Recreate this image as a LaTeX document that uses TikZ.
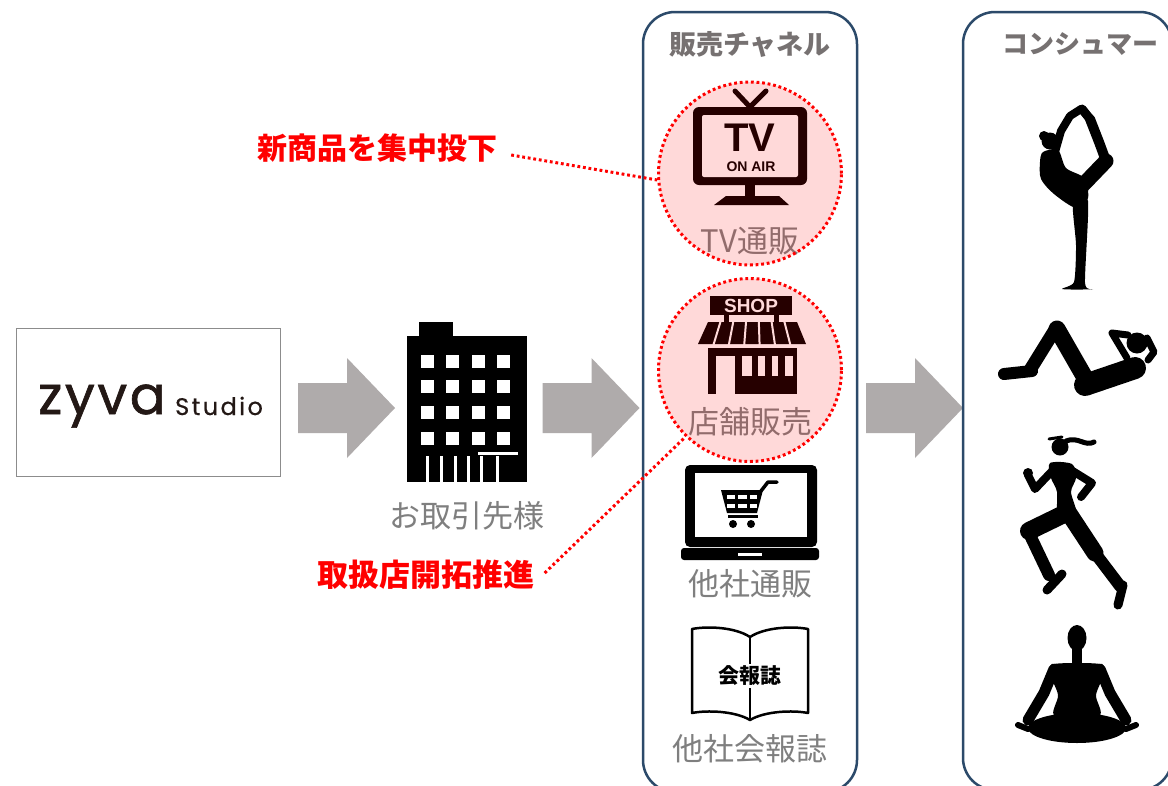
\documentclass[tikz,border=0pt]{standalone}
\usepackage{fontspec}
\setmainfont{Liberation Sans}
\newfontfamily\jp{Noto Sans CJK JP}
\newfontfamily\logofont{Poppins}
\usetikzlibrary{calc}

\definecolor{labelgray}{HTML}{7F7F7F}
\definecolor{headgray}{HTML}{767171}
\definecolor{panelblue}{HTML}{2C4A6A}
\definecolor{arrowgray}{HTML}{AFABAB}
\definecolor{logoink}{HTML}{231815}
\definecolor{framegray}{HTML}{8C8C8C}

\tikzset{
  lbl/.style={font=\jp\fontsize{31}{31}\selectfont, text=labelgray, inner sep=0pt},
  header/.style={font=\jp\bfseries\fontsize{27}{27}\selectfont, text=headgray, inner sep=0pt},
  note/.style={font=\jp\bfseries\fontsize{31}{31}\selectfont, text=red, inner sep=0pt},
  panel/.style={draw=panelblue, line width=2.5pt, rounded corners=32pt},
  hilite/.style={circle, minimum size=183pt, inner sep=0pt, fill=red, fill opacity=0.15,
    draw=red, draw opacity=1, line width=3pt, dash pattern=on 2.8pt off 2.8pt},
  dotlink/.style={draw=red, line width=3pt, dash pattern=on 2.8pt off 2.8pt},
  limb/.style={line cap=round, line join=round},
  blockarrow/.pic={
    \fill[arrowgray] (-48.5,-25) -- (0.5,-25) -- (0.5,-50) -- (48.5,0)
      -- (0.5,50) -- (0.5,25) -- (-48.5,25) -- cycle;
  }
}

\begin{document}
\begin{tikzpicture}[x=1pt,y=-1pt]
\useasboundingbox (0,0) rectangle (1168,785);
\fill[white] (0,0) rectangle (1168,785);

% ---- brand logo ----
\node[draw=framegray, line width=1.5pt, minimum width=264pt, minimum height=148pt,
      inner sep=0pt] (logo) at (148.5,402.5) {};
\node[anchor=base west, inner sep=0pt, text=logoink,
      font=\logofont\addfontfeatures{LetterSpace=5,FakeBold=1.2}\fontsize{53}{53}\selectfont] (zyva) at (38,414) {zyva};
\node[anchor=base west, inner sep=0pt, text=logoink,
      font=\logofont\addfontfeatures{LetterSpace=10,FakeBold=0.6}\fontsize{24}{24}\selectfont] (studio) at (175,415) {Studio};

% ---- block arrows ----
\pic at (346.5,408) {blockarrow};
\pic at (591,408) {blockarrow};
\pic at (914.5,408) {blockarrow};

% ---- office building ----
\fill (419,322) rectangle (453,337);
\fill (407,336) rectangle (527,482);
\foreach \wx in {421,446,472,497}
  \foreach \wy in {355,380,406,432}
    \fill[white] (\wx,\wy) rectangle ++(12.5,12.5);
\foreach \sx in {426,440,453.5,467,480,496}
  \fill[white] (\sx,456) rectangle ++(3.3,27);
\fill[white] (478,452) rectangle (518,454.5);
\node[lbl] (partner) at (467,516) {お取引先様};

% ---- sales channel panel ----
\draw[panel] (643,12) rectangle (857,792);
\node[header] (chanhead) at (750,44) {販売チャネル};

% TV
\fill[rounded corners=6pt] (693,107) rectangle (807,185);
\fill[white, rounded corners=2pt] (702,115) rectangle (798,177);
\draw[line width=5pt, limb] (735,91) -- (750,107) -- (766,91);
\fill (745,184) rectangle (755,197);
\fill (726,196) -- (779,196) -- (789,205) -- (714,205) -- cycle;
\node[inner sep=0pt, font=\bfseries\fontsize{40}{40}\selectfont] (tvtxt) at (750,138) {TV};
\node[inner sep=0pt, font=\bfseries\fontsize{14}{14}\selectfont] (onair) at (751,167) {ON AIR};
\node[lbl] (tvlbl) at (750,241) {TV通販};

% shop
\fill (710,296) rectangle (792,315);
\node[inner sep=0pt, text=white, font=\bfseries\fontsize{19}{19}\selectfont] (shoptxt) at (751,306) {SHOP};
\fill (724,314) rectangle (729,323);
\fill (774,314) rectangle (779,323);
\fill (708,322) -- (797,322) -- (806,344) -- (698,344) -- cycle;
\foreach \i in {1,...,6}
  \draw[white, line width=2pt] ({708+12.7*\i},321) -- ({698+15.4*\i},345);
\fill (708,348) rectangle (797,394);
\fill[white] (716,356) rectangle (735,395);
\fill[white] (742,356) rectangle (793,376);
\fill (752,350) rectangle (758,378);
\fill (765,352) rectangle (772,378);
\fill (778,350) rectangle (785,376);
\node[lbl] (shoplbl) at (750,422) {店舗販売};

% laptop with cart
\fill[rounded corners=5pt] (685,465) rectangle (817,547);
\fill[white] (695,473) rectangle (807,537);
\fill[rounded corners=3pt] (681,548) rectangle (819,560);
\fill[white] (738,552.5) rectangle (762,555.5);
\fill (721,490) -- (763,490) -- (757,513) -- (727,513) -- cycle;
\draw[line width=3.5pt, limb] (761,491) -- (768,482) -- (777,482);
\foreach \gx/\gw in {727/8,738/9,750/7}
  \foreach \gy in {495,504}
    \fill[white] (\gx,\gy) rectangle ++(\gw,4);
\fill (728,515) rectangle (758,518);
\fill (733,524) circle (4);
\fill (751,524) circle (4);
\node[lbl] (ecl) at (750,584) {他社通販};

% magazine
\draw[line width=2.5pt, line join=round]
  (750,637) .. controls (735,627) and (707,626) .. (692,629) -- (692,713)
  .. controls (707,710) and (735,711) .. (750,720)
  .. controls (765,711) and (793,710) .. (808,713) -- (808,629)
  .. controls (793,626) and (765,627) .. (750,637) -- cycle;
\draw[line width=2pt] (750,637) -- (750,720);
\node[fill=white, inner sep=2pt, font=\jp\bfseries\fontsize{21}{21}\selectfont] (magtxt) at (750,676) {会報誌};
\node[lbl] (maglbl) at (750,749) {他社会報誌};

% ---- consumer panel ----
\draw[panel] (963,12) rectangle (1172,790);
\node[header, font=\jp\bfseries\fontsize{26}{26}\selectfont] (conshead) at (1080,44) {コンシュマー};

% dancer pose
\fill (1050,141) circle (8.5);
\fill (1044,136) circle (5);
\fill plot[smooth cycle, tension=0.5] coordinates {(1043,152) (1058,150) (1066,168) (1084,178)
  (1088,198) (1076,208) (1054,194) (1041,179) (1040,162)};
\fill plot[smooth cycle, tension=0.4] coordinates {(1073,203) (1088,201) (1085,283) (1093,289)
  (1062,289) (1074,282) (1076,245)};
\draw[line width=15pt, limb] (1080,188) -- (1106,161);
\draw[line width=10pt, limb] (1106,161) -- (1099,142) -- (1090,119);
\draw[line width=9pt, limb] (1090,119) -- (1082,109);
\draw[line width=8pt, limb] (1055,152) -- (1061,131) -- (1070,116) -- (1081,109);

% crunch
\draw[line width=12pt, limb] (1004,374) -- (1032,371);
\draw[line width=13pt, limb] (1030,370) -- (1056,328);
\draw[line width=17pt, limb] (1057,329) -- (1088,383);
\draw[line width=22pt, limb] (1085,385) -- (1135,368);
\fill (1137,343) circle (10.5);
\draw[line width=7pt, limb] (1127,358) -- (1112,333) -- (1128,335);
\draw[line width=7pt, limb] (1148,360) -- (1154,352) -- (1147,338);

% runner
\fill (1060,447) circle (8.5);
\draw[line width=3pt, limb] (1049,439) -- (1062,437);
\draw[line width=5pt, limb] (1066,441) .. controls (1078,436) and (1085,447) .. (1094,442);
\fill plot[smooth cycle, tension=0.5] coordinates {(1050,463) (1072,464) (1076,478)
  (1071,492) (1076,514) (1058,520) (1057,492) (1051,478)};
\draw[line width=8pt, limb] (1054,469) -- (1035,489) -- (1028,475);
\fill (1028,473) circle (5);
\draw[line width=8pt, limb] (1071,470) -- (1092,483) -- (1081,497);
\draw[line width=18pt, limb] (1066,513) -- (1029,531);
\draw[line width=12pt, limb] (1028,531) -- (1049,575);
\draw[line width=9pt, limb] (1047,590) -- (1062,574);
\draw[line width=17pt, limb] (1068,512) -- (1095,553);
\draw[line width=12pt, limb] (1095,553) -- (1120,586);
\draw[line width=9pt, limb] (1123,585) -- (1118,605);

% lotus
\fill (1077,638) ellipse (9.5 and 13);
\fill (1072,648) rectangle (1082,663);
\fill plot[smooth cycle, tension=0.5] coordinates {(1054,664) (1100,664) (1104,674) (1096,695)
  (1099,716) (1055,716) (1058,695) (1050,674)};
\draw[line width=11pt, limb] (1054,669) -- (1044,693) -- (1028,720);
\draw[line width=11pt, limb] (1100,669) -- (1110,693) -- (1126,720);
\draw[line width=6pt, limb] (1018,725) -- (1028,729);
\draw[line width=6pt, limb] (1136,725) -- (1126,729);
\fill (1077,728) ellipse (49 and 15);

% ---- highlight circles and notes ----
\node[hilite] (tvc) at (750,173.5) {};
\node[hilite] (shc) at (750,370) {};
\node[note, font=\jp\bfseries\fontsize{30}{30}\selectfont] (note1) at (377,148) {新商品を集中投下};
\node[note] (note2) at (426,575) {取扱店開拓推進};
\draw[dotlink] ([xshift=14pt,yshift=-7pt]note1.east) -- (tvc.184);
\draw[dotlink] ([xshift=10pt,yshift=2pt]note2.east) -- (shc.226);
\end{tikzpicture}
\end{document}
